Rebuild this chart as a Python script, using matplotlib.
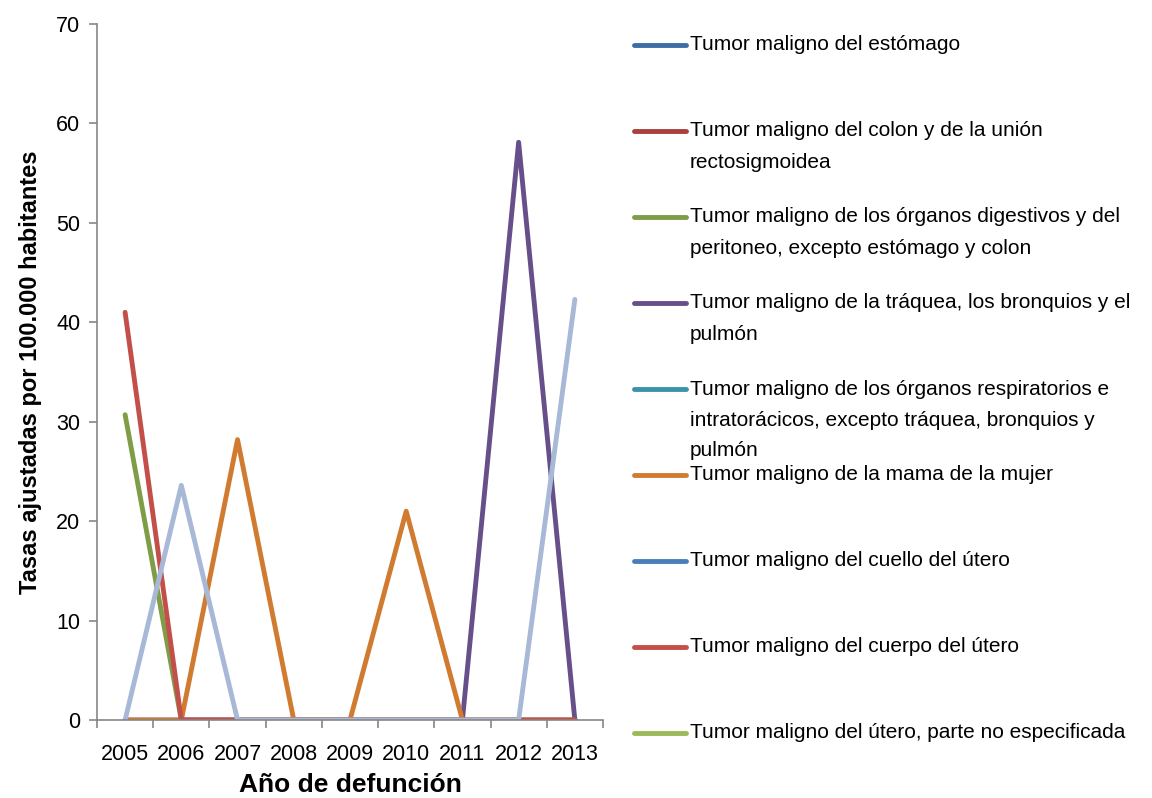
import numpy as np
import matplotlib
matplotlib.use('Agg')
import matplotlib.pyplot as plt
from matplotlib.lines import Line2D

years = ['2005', '2006', '2007', '2008', '2009', '2010', '2011', '2012', '2013']

nan = np.nan
estomago = [0, 0, 0, 0, 0, 0, 0, 0, 0]
colon = [0, 0, 0, 0, 0, 0, 0, 0, 0]
digestivos = [30.7, 0, 0, 0, 0, 0, 0, 0, 0]
traquea = [0, 0, 0, 0, 0, 0, 0, 58.1, 0]
respiratorios = [0, 0, 0, 0, 0, 0, 0, 0, 0]
mama = [0, 0, 28.2, 0, 0, 21.0, 0, 0, 0]
cuello_utero = [nan, 0, 0, 0, 0, 0, 0, 0, 0]
cuerpo_utero = [41.0, 0, 0, 0, 0, 0, 0, 0, 0]
utero_ne = [nan, nan, nan, nan, nan, nan, nan, nan, nan]
otros = [0, 23.6, 0, 0, 0, 0, 0, 0, 42.3]

labels = [
    'Tumor maligno del estómago',
    'Tumor maligno del colon y de la unión\nrectosigmoidea',
    'Tumor maligno de los órganos digestivos y del\nperitoneo, excepto estómago y colon',
    'Tumor maligno de la tráquea, los bronquios y el\npulmón',
    'Tumor maligno de los órganos respiratorios e\nintratorácicos, excepto tráquea, bronquios y\npulmón',
    'Tumor maligno de la mama de la mujer',
    'Tumor maligno del cuello del útero',
    'Tumor maligno del cuerpo del útero',
    'Tumor maligno del útero, parte no especificada',
]
series = [estomago, colon, digestivos, traquea, respiratorios, mama,
          cuello_utero, cuerpo_utero, utero_ne]
colors = ['#3D6DA6', '#A8403D', '#7F9C46', '#67508A', '#3A93AB',
          '#D17B31', '#4A7EBB', '#C34F4B', '#9BBB59']
otros_color = '#A7B9D7'

plt.rcParams['font.family'] = ['Liberation Sans', 'DejaVu Sans']

fig = plt.figure(figsize=(11.52, 7.98), dpi=100)
ax = fig.add_axes([0.0842, 0.0977, 0.4392, 0.8723])

x = np.arange(len(years))
lw = 3.5
for vals, c in zip(series, colors):
    ax.plot(x, vals, color=c, lw=lw, solid_capstyle='round', solid_joinstyle='round')
ax.plot(x, otros, color=otros_color, lw=lw, solid_capstyle='round', solid_joinstyle='round')

ax.set_xlim(-0.5, len(years) - 0.5)
ax.set_ylim(0, 70)
ax.set_yticks(np.arange(0, 71, 10))
ax.set_xticks(x)
ax.set_xticklabels(years)
ax.set_xticks(np.arange(-0.5, len(years)), minor=True)
ax.tick_params(axis='x', which='major', length=0, labelsize=15.5, pad=17)
ax.tick_params(axis='x', which='minor', length=6, color='#868686', width=1.2)
ax.tick_params(axis='y', length=6, color='#868686', width=1.2, labelsize=15.5, pad=6)

for side in ['top', 'right']:
    ax.spines[side].set_visible(False)
for side in ['left', 'bottom']:
    ax.spines[side].set_color('#868686')
    ax.spines[side].set_linewidth(1.2)

ax.set_xlabel('Año de defunción', fontsize=19, fontweight='bold', labelpad=6)
ax.set_ylabel('Tasas ajustadas por 100.000 habitantes', fontsize=17, fontweight='bold', labelpad=10)

# legend drawn by hand so wrapped entries can spill over the next row
W, H = 1152, 798
row_y = 45
row_step = 86
line_gap = 31
for lab, c in zip(labels, colors):
    yf = 1 - row_y / H
    fig.add_artist(Line2D([634 / W, 686 / W], [yf, yf], color=c, lw=lw,
                          solid_capstyle='round', transform=fig.transFigure))
    for k, part in enumerate(lab.split('\n')):
        fig.text(690 / W, 1 - (row_y + k * line_gap) / H, part,
                 fontsize=15, va='center', ha='left')
    row_y += row_step

fig.savefig('out.png', dpi=100)
